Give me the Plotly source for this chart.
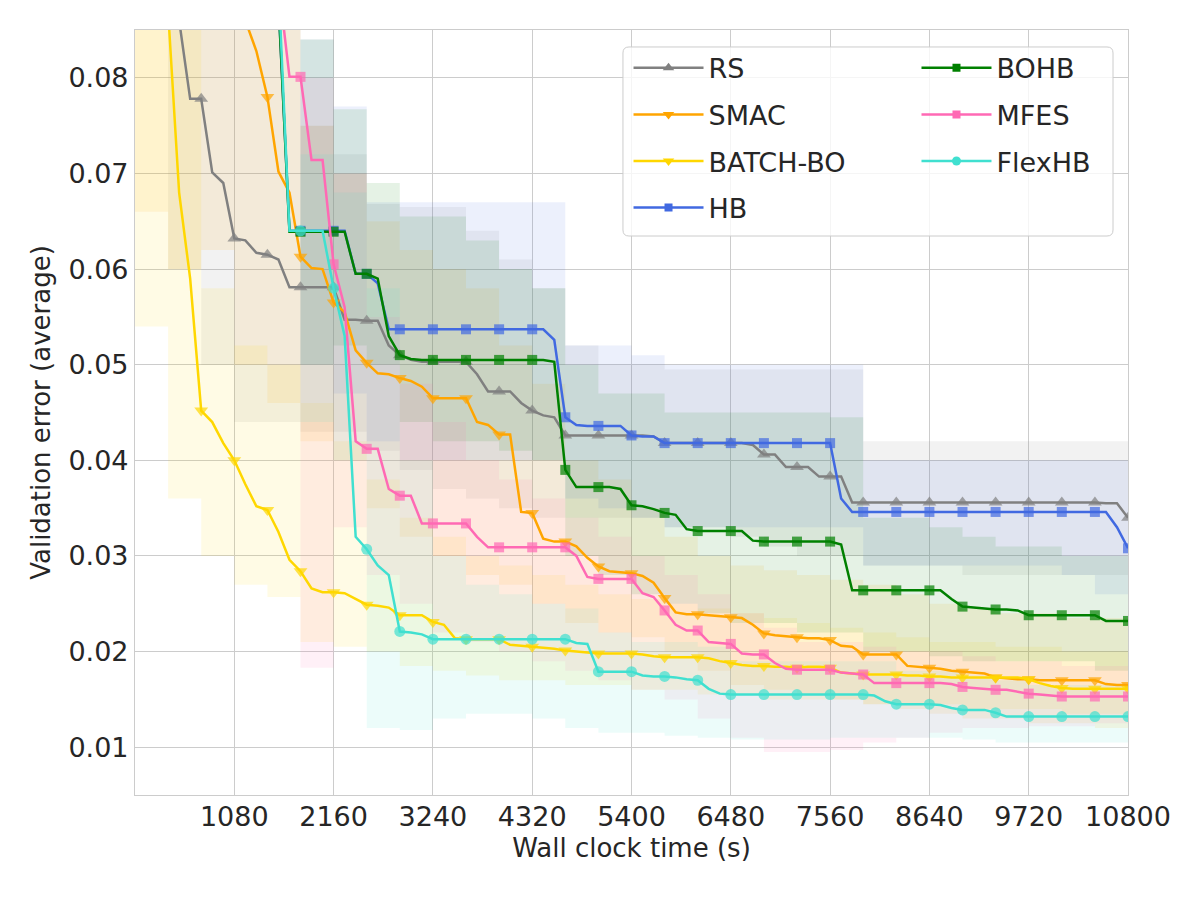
import plotly.graph_objects as go

# time grid (seconds) for the mean curves and for the shaded bands
t = list(range(0, 10801, 120))
t_band = list(range(0, 10801, 360))

rs = [0.110, 0.100, 0.095, 0.090, 0.086, 0.0778, 0.0778, 0.0701, 0.0690, 0.0632,
      0.0630, 0.0617, 0.0615, 0.0610, 0.0581, 0.0581, 0.0581, 0.0581, 0.0581, 0.0547,
      0.0547, 0.0546, 0.0546, 0.0520, 0.0510, 0.0505, 0.0503, 0.0503, 0.0503, 0.0503,
      0.0503, 0.0490, 0.0472, 0.0472, 0.0472, 0.0460, 0.0452, 0.0447, 0.0445, 0.0426,
      0.0426, 0.0426, 0.0426, 0.0426, 0.0426, 0.0426, 0.0426, 0.0425, 0.0418, 0.0418,
      0.0418, 0.0418, 0.0418, 0.0418, 0.0418, 0.0418, 0.0416, 0.0406, 0.0406, 0.0393,
      0.0393, 0.0393, 0.0383, 0.0383, 0.0383, 0.0356, 0.0356, 0.0356, 0.0356, 0.0356,
      0.0356, 0.0356, 0.0356, 0.0356, 0.0356, 0.0356, 0.0356, 0.0356, 0.0356, 0.0356,
      0.0356, 0.0356, 0.0356, 0.0356, 0.0356, 0.0356, 0.0356, 0.0356, 0.0355, 0.0355,
      0.0340]
smac = [0.120, 0.115, 0.110, 0.105, 0.100, 0.097, 0.095, 0.093, 0.091, 0.089,
        0.0860, 0.0828, 0.0780, 0.0702, 0.0680, 0.0613, 0.0601, 0.0600, 0.0565, 0.0555,
        0.0515, 0.0502, 0.0491, 0.0490, 0.0486, 0.0483, 0.0477, 0.0465, 0.0465, 0.0465,
        0.0465, 0.0440, 0.0437, 0.0427, 0.0427, 0.0346, 0.0345, 0.0318, 0.0315, 0.0315,
        0.0310, 0.0298, 0.0289, 0.0284, 0.0283, 0.0282, 0.0279, 0.0272, 0.0256, 0.0241,
        0.0239, 0.0239, 0.0238, 0.0237, 0.0236, 0.0235, 0.0228, 0.0219, 0.0217, 0.0216,
        0.0215, 0.0214, 0.0214, 0.0212, 0.0206, 0.0205, 0.0197, 0.0197, 0.0197, 0.0197,
        0.0185, 0.0184, 0.0183, 0.0182, 0.0180, 0.0179, 0.0178, 0.0177, 0.0173, 0.0172,
        0.0171, 0.0171, 0.0170, 0.0170, 0.0170, 0.0170, 0.0170, 0.0170, 0.0166, 0.0165,
        0.0165]
batch_bo = [0.130, 0.120, 0.110, 0.087, 0.0680, 0.0590, 0.0452, 0.0440, 0.0418, 0.0400,
            0.0375, 0.0352, 0.0348, 0.0325, 0.0296, 0.0284, 0.0266, 0.0262, 0.0262, 0.0261,
            0.0255, 0.0249, 0.0248, 0.0246, 0.0238, 0.0238, 0.0238, 0.0231, 0.0228, 0.0214,
            0.0213, 0.0213, 0.0213, 0.0213, 0.0207, 0.0206, 0.0205, 0.0204, 0.0203, 0.0201,
            0.0200, 0.0199, 0.0198, 0.0198, 0.0198, 0.0198, 0.0197, 0.0195, 0.0194, 0.0194,
            0.0194, 0.0194, 0.0193, 0.0190, 0.0188, 0.0186, 0.0185, 0.0185, 0.0184, 0.0184,
            0.0183, 0.0184, 0.0184, 0.0183, 0.0178, 0.0177, 0.0176, 0.0176, 0.0176, 0.0176,
            0.0175, 0.0175, 0.0174, 0.0174, 0.0173, 0.0173, 0.0173, 0.0173, 0.0173, 0.0173,
            0.0173, 0.0171, 0.0167, 0.0164, 0.0162, 0.0161, 0.0161, 0.0161, 0.0161, 0.0161,
            0.0161]
hb = [0.130, 0.125, 0.120, 0.115, 0.110, 0.105, 0.100, 0.097, 0.094, 0.091,
      0.089, 0.088, 0.088, 0.088, 0.0640, 0.0640, 0.0640, 0.0640, 0.0640, 0.0640,
      0.0595, 0.0595, 0.0585, 0.0537, 0.0537, 0.0537, 0.0537, 0.0537, 0.0537, 0.0537,
      0.0537, 0.0537, 0.0537, 0.0537, 0.0537, 0.0537, 0.0537, 0.0537, 0.0526, 0.0445,
      0.0437, 0.0436, 0.0436, 0.0436, 0.0436, 0.0426, 0.0425, 0.0425, 0.0418, 0.0418,
      0.0418, 0.0418, 0.0418, 0.0418, 0.0418, 0.0418, 0.0418, 0.0418, 0.0418, 0.0418,
      0.0418, 0.0418, 0.0418, 0.0418, 0.0360, 0.0346, 0.0346, 0.0346, 0.0346, 0.0346,
      0.0346, 0.0346, 0.0346, 0.0346, 0.0346, 0.0346, 0.0346, 0.0346, 0.0346, 0.0346,
      0.0346, 0.0346, 0.0346, 0.0346, 0.0346, 0.0346, 0.0346, 0.0346, 0.0346, 0.0330,
      0.0308]
bohb = [0.130, 0.125, 0.120, 0.115, 0.110, 0.105, 0.100, 0.097, 0.094, 0.091,
        0.089, 0.088, 0.088, 0.088, 0.0639, 0.0639, 0.0639, 0.0639, 0.0639, 0.0639,
        0.0595, 0.0595, 0.0590, 0.0530, 0.0510, 0.0506, 0.0505, 0.0505, 0.0505, 0.0505,
        0.0505, 0.0505, 0.0505, 0.0505, 0.0505, 0.0505, 0.0505, 0.0505, 0.0503, 0.0390,
        0.0372, 0.0372, 0.0372, 0.0372, 0.0370, 0.0353, 0.0352, 0.0349, 0.0345, 0.0343,
        0.0328, 0.0326, 0.0326, 0.0326, 0.0326, 0.0326, 0.0316, 0.0315, 0.0315, 0.0315,
        0.0315, 0.0315, 0.0315, 0.0315, 0.0312, 0.0264, 0.0264, 0.0264, 0.0264, 0.0264,
        0.0264, 0.0264, 0.0264, 0.0264, 0.0255, 0.0247, 0.0246, 0.0245, 0.0244, 0.0244,
        0.0243, 0.0238, 0.0238, 0.0238, 0.0238, 0.0238, 0.0238, 0.0238, 0.0232, 0.0232,
        0.0232]
mfes = [0.130, 0.125, 0.120, 0.115, 0.110, 0.105, 0.100, 0.098, 0.096, 0.094,
        0.093, 0.092, 0.091, 0.090, 0.0801, 0.0801, 0.0714, 0.0714, 0.0605, 0.0560,
        0.0420, 0.0412, 0.0412, 0.0370, 0.0363, 0.0363, 0.0334, 0.0334, 0.0334, 0.0334,
        0.0334, 0.0320, 0.0309, 0.0309, 0.0309, 0.0309, 0.0309, 0.0309, 0.0309, 0.0309,
        0.0300, 0.0278, 0.0276, 0.0276, 0.0276, 0.0276, 0.0261, 0.0257, 0.0243, 0.0228,
        0.0222, 0.0222, 0.0210, 0.0209, 0.0208, 0.0198, 0.0197, 0.0197, 0.0188, 0.0182,
        0.0181, 0.0181, 0.0181, 0.0181, 0.0178, 0.0177, 0.0176, 0.0167, 0.0167, 0.0167,
        0.0167, 0.0167, 0.0167, 0.0167, 0.0166, 0.0163, 0.0162, 0.0161, 0.0160, 0.0160,
        0.0158, 0.0156, 0.0155, 0.0154, 0.0153, 0.0153, 0.0153, 0.0153, 0.0153, 0.0153,
        0.0153]
flexhb = [0.130, 0.125, 0.120, 0.115, 0.110, 0.105, 0.100, 0.098, 0.096, 0.094,
          0.093, 0.092, 0.091, 0.090, 0.0640, 0.0640, 0.0640, 0.0640, 0.0580, 0.0530,
          0.0320, 0.0307, 0.0290, 0.0280, 0.0221, 0.0220, 0.0218, 0.0213, 0.0213, 0.0213,
          0.0213, 0.0213, 0.0213, 0.0213, 0.0213, 0.0213, 0.0213, 0.0213, 0.0213, 0.0213,
          0.0209, 0.0208, 0.0179, 0.0179, 0.0179, 0.0179, 0.0175, 0.0174, 0.0174, 0.0173,
          0.0171, 0.0170, 0.0161, 0.0156, 0.0155, 0.0155, 0.0155, 0.0155, 0.0155, 0.0155,
          0.0155, 0.0155, 0.0155, 0.0155, 0.0155, 0.0155, 0.0155, 0.0154, 0.0148, 0.0145,
          0.0145, 0.0145, 0.0145, 0.0144, 0.0141, 0.0139, 0.0139, 0.0139, 0.0136, 0.0132,
          0.0132, 0.0132, 0.0132, 0.0132, 0.0132, 0.0132, 0.0132, 0.0132, 0.0132, 0.0132,
          0.0132]

# shaded spread (lower / upper) on the coarse grid; 0.12 = still above the plotted range
rs_lo = [0.12, 0.060, 0.050, 0.044, 0.044, 0.043, 0.043, 0.041, 0.039, 0.037, 0.036, 0.035, 0.034, 0.034, 0.034, 0.034,
         0.033, 0.033, 0.032, 0.031, 0.030, 0.030, 0.029, 0.029, 0.029, 0.028, 0.028, 0.028, 0.028, 0.028, 0.027]
rs_hi = [0.12, 0.110, 0.100, 0.095, 0.090, 0.075, 0.072, 0.0668, 0.0665, 0.0665, 0.064, 0.061, 0.058, 0.052, 0.050, 0.050,
         0.0495, 0.0495, 0.0495, 0.0495, 0.0495, 0.0495, 0.042, 0.042, 0.042, 0.042, 0.042, 0.042, 0.042, 0.042, 0.042]
smac_lo = [0.066, 0.060, 0.062, 0.050, 0.046, 0.042, 0.040, 0.035, 0.032, 0.030, 0.028, 0.027, 0.025, 0.023, 0.022, 0.0215,
           0.020, 0.018, 0.0165, 0.016, 0.0155, 0.015, 0.0145, 0.014, 0.0135, 0.013, 0.013, 0.0125, 0.0125, 0.012, 0.012]
smac_hi = [0.12, 0.110, 0.100, 0.095, 0.090, 0.075, 0.070, 0.065, 0.062, 0.060, 0.058, 0.052, 0.048, 0.040, 0.038, 0.035,
           0.032, 0.030, 0.029, 0.0285, 0.028, 0.0275, 0.027, 0.026, 0.025, 0.0245, 0.024, 0.024, 0.0235, 0.0235, 0.023]
batch_bo_lo = [0.054, 0.036, 0.030, 0.027, 0.0257, 0.021, 0.0205, 0.020, 0.0185, 0.018, 0.0175, 0.017, 0.017, 0.0165, 0.0165, 0.016,
               0.016, 0.0155, 0.0155, 0.015, 0.015, 0.015, 0.0145, 0.0145, 0.0145, 0.014, 0.014, 0.014, 0.0135, 0.0135, 0.0135]
batch_bo_hi = [0.12, 0.110, 0.058, 0.052, 0.050, 0.046, 0.042, 0.038, 0.034, 0.032, 0.030, 0.029, 0.028, 0.027, 0.026, 0.0255,
               0.025, 0.0245, 0.024, 0.0235, 0.023, 0.0225, 0.022, 0.0215, 0.021, 0.021, 0.0205, 0.0205, 0.020, 0.020, 0.020]
hb_lo = [0.12, 0.12, 0.12, 0.12, 0.12, 0.050, 0.047, 0.042, 0.040, 0.040, 0.040, 0.040, 0.040, 0.036, 0.035, 0.034,
         0.033, 0.033, 0.033, 0.033, 0.033, 0.033, 0.029, 0.029, 0.029, 0.029, 0.029, 0.029, 0.028, 0.026, 0.024]
hb_hi = [0.12, 0.12, 0.12, 0.12, 0.12, 0.084, 0.077, 0.067, 0.067, 0.067, 0.067, 0.067, 0.067, 0.052, 0.052, 0.051,
         0.050, 0.050, 0.050, 0.050, 0.050, 0.050, 0.040, 0.040, 0.040, 0.040, 0.040, 0.040, 0.040, 0.040, 0.038]
bohb_lo = [0.12, 0.12, 0.12, 0.12, 0.12, 0.050, 0.052, 0.050, 0.044, 0.042, 0.042, 0.041, 0.040, 0.030, 0.028, 0.026,
           0.025, 0.024, 0.023, 0.023, 0.022, 0.022, 0.020, 0.020, 0.0195, 0.019, 0.019, 0.019, 0.019, 0.018, 0.018]
bohb_hi = [0.12, 0.12, 0.12, 0.12, 0.12, 0.084, 0.0767, 0.069, 0.0655, 0.0655, 0.063, 0.060, 0.058, 0.050, 0.047, 0.047,
           0.045, 0.045, 0.045, 0.045, 0.045, 0.0445, 0.034, 0.034, 0.033, 0.032, 0.031, 0.031, 0.030, 0.030, 0.030]
mfes_lo = [0.12, 0.12, 0.12, 0.12, 0.12, 0.0183, 0.033, 0.028, 0.025, 0.022, 0.021, 0.020, 0.019, 0.018, 0.017, 0.016,
           0.015, 0.013, 0.011, 0.0095, 0.0095, 0.0097, 0.0105, 0.011, 0.0115, 0.012, 0.012, 0.0122, 0.0122, 0.0125, 0.0125]
mfes_hi = [0.12, 0.12, 0.12, 0.12, 0.12, 0.080, 0.070, 0.055, 0.048, 0.044, 0.040, 0.038, 0.036, 0.034, 0.032, 0.030,
           0.028, 0.026, 0.024, 0.0225, 0.021, 0.021, 0.0205, 0.020, 0.020, 0.0195, 0.019, 0.019, 0.0185, 0.0185, 0.018]
flexhb_lo = [0.12, 0.12, 0.12, 0.12, 0.12, 0.044, 0.040, 0.012, 0.0118, 0.013, 0.0135, 0.0135, 0.013, 0.012, 0.0115, 0.0115,
             0.0112, 0.011, 0.0108, 0.0108, 0.0108, 0.011, 0.011, 0.011, 0.011, 0.0108, 0.0105, 0.0105, 0.0105, 0.0105, 0.0105]
flexhb_hi = [0.12, 0.12, 0.12, 0.12, 0.12, 0.072, 0.068, 0.058, 0.040, 0.030, 0.027, 0.026, 0.025, 0.0245, 0.022, 0.021,
             0.021, 0.0205, 0.019, 0.019, 0.019, 0.019, 0.019, 0.018, 0.018, 0.0175, 0.017, 0.0165, 0.0165, 0.0165, 0.0165]

names = ["RS", "SMAC", "BATCH-BO", "HB", "BOHB", "MFES", "FlexHB"]
x_ticks = [1080, 2160, 3240, 4320, 5400, 6480, 7560, 8640, 9720, 10800]
y_ticks = [0.01, 0.02, 0.03, 0.04, 0.05, 0.06, 0.07, 0.08]

# (mean, lower, upper, colour, marker, plot marker size, legend marker size)
series = [
    (rs, rs_lo, rs_hi, (128, 128, 128), "triangle-up", 12, 10),
    (smac, smac_lo, smac_hi, (255, 165, 0), "triangle-down", 12, 10),
    (batch_bo, batch_bo_lo, batch_bo_hi, (255, 215, 0), "triangle-down", 12, 10),
    (hb, hb_lo, hb_hi, (65, 105, 225), "square", 10, 8),
    (bohb, bohb_lo, bohb_hi, (0, 128, 0), "square", 10, 8),
    (mfes, mfes_lo, mfes_hi, (255, 105, 180), "square", 10, 8),
    (flexhb, flexhb_lo, flexhb_hi, (64, 224, 208), "circle", 11, 9),
]

FONT = "DejaVu Sans, sans-serif"
fig = go.Figure()

# spread bands first so every curve sits on top of them
for name, (vals, lo, hi, rgb, sym, ms, lms) in zip(names, series):
    fill = "rgba({},{},{},0.1)".format(*rgb)
    fig.add_trace(go.Scatter(x=t_band, y=lo, mode="lines", line=dict(width=0, shape="hv"),
                             showlegend=False, hoverinfo="skip"))
    fig.add_trace(go.Scatter(x=t_band, y=hi, mode="lines", line=dict(width=0, shape="hv"),
                             fill="tonexty", fillcolor=fill, showlegend=False, hoverinfo="skip"))

for i, (name, (vals, lo, hi, rgb, sym, ms, lms)) in enumerate(zip(names, series)):
    col = "rgb({},{},{})".format(*rgb)
    sizes = [ms if k % 3 == 0 else 0 for k in range(len(t))]  # a marker every 360 s
    fig.add_trace(go.Scatter(x=t, y=vals, mode="lines+markers", name=name,
                             line=dict(color=col, width=2.5),
                             marker=dict(symbol=sym, size=sizes, color=col, line=dict(width=0)),
                             showlegend=False))
    # legend entry (two columns -> two legends)
    fig.add_trace(go.Scatter(x=[None], y=[None], mode="lines+markers", name=name,
                             line=dict(color=col, width=2.5),
                             marker=dict(symbol=sym, size=lms, color=col, line=dict(width=0)),
                             legend="legend" if i < 4 else "legend2",
                             legendgroup=name))

# rounded legend frame
x0, x1, y0, y1 = 0.4914, 0.9849, 0.7307, 0.9778
rx, ry = 6 / 993, 6 / 765
frame = ("M {a},{y0} L {b},{y0} Q {x1},{y0} {x1},{c} L {x1},{d} Q {x1},{y1} {b},{y1} "
         "L {a},{y1} Q {x0},{y1} {x0},{d} L {x0},{c} Q {x0},{y0} {a},{y0} Z").format(
    a=x0 + rx, b=x1 - rx, c=y0 + ry, d=y1 - ry, x0=x0, x1=x1, y0=y0, y1=y1)
fig.add_shape(type="path", path=frame, xref="paper", yref="paper", layer="above",
              fillcolor="rgba(255,255,255,0.8)", line=dict(color="#cccccc", width=1))

leg = dict(bgcolor="rgba(0,0,0,0)", borderwidth=0, font=dict(family=FONT, size=27, color="#262626"),
           itemwidth=70, traceorder="grouped", tracegroupgap=8.5, xanchor="left", yanchor="top")
fig.update_layout(
    width=1200, height=900,
    margin=dict(l=127, r=80, t=22, b=113),
    paper_bgcolor="white", plot_bgcolor="white",
    font=dict(family=FONT, size=27, color="#262626"),
    legend=dict(leg, x=0.497, y=0.982),
    legend2=dict(leg, x=0.787, y=0.982),
    xaxis=dict(range=[0, 10800], tickvals=x_ticks, ticktext=[str(v) for v in x_ticks],
               showgrid=True, gridcolor="#cccccc", gridwidth=1, zeroline=False,
               showline=True, linecolor="#cccccc", linewidth=1.2, mirror=True, ticks="",
               ticklabelstandoff=-3,
               title=dict(text="Wall clock time (s)", standoff=8, font=dict(size=26)),
               tickfont=dict(size=27)),
    yaxis=dict(range=[0.005, 0.085], tickvals=y_ticks, ticktext=["%.2f" % v for v in y_ticks],
               showgrid=True, gridcolor="#cccccc", gridwidth=1, zeroline=False,
               showline=True, linecolor="#cccccc", linewidth=1.2, mirror=True, ticks="",
               title=dict(text="Validation error (average)", standoff=10, font=dict(size=26)),
               tickfont=dict(size=27)),
)

fig.write_html("out.html")
